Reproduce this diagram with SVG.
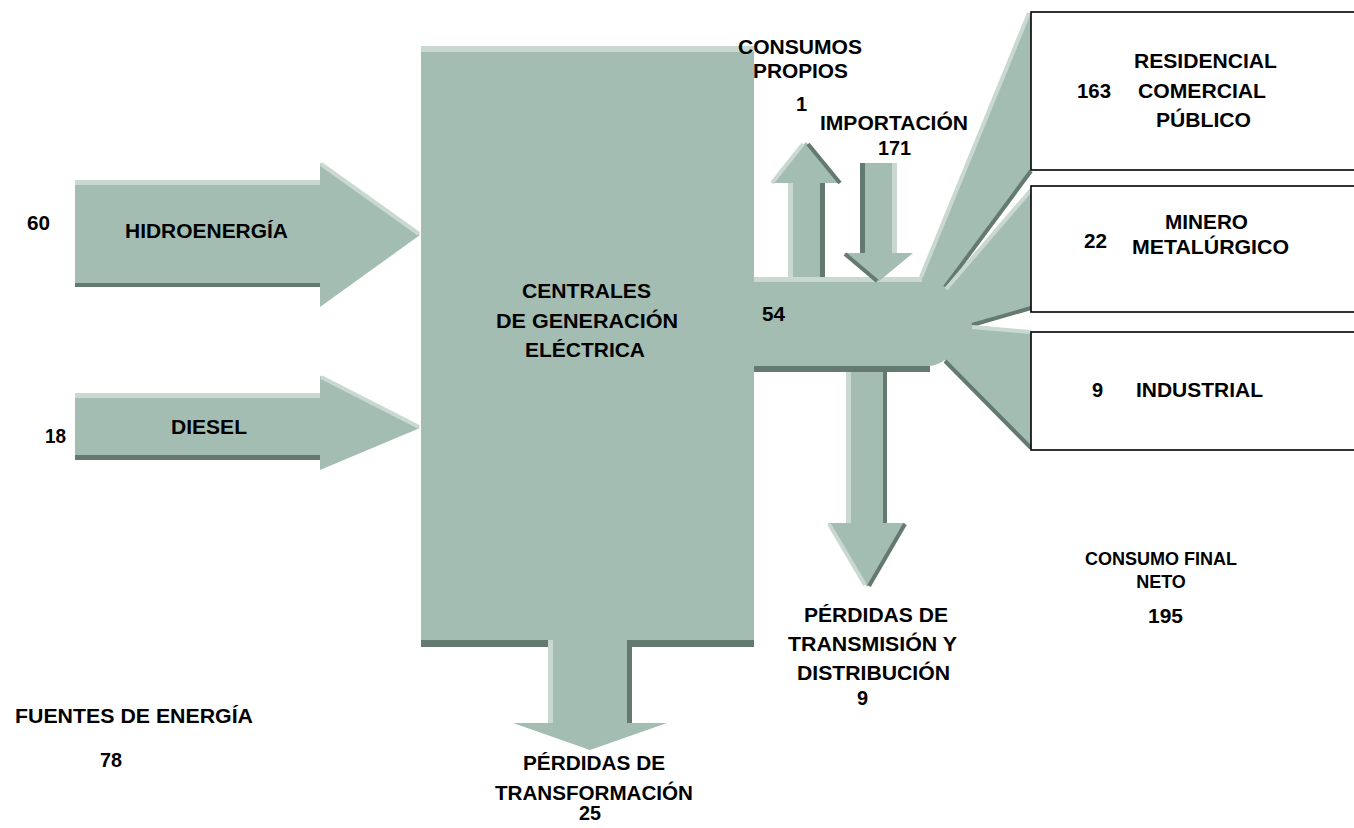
<svg xmlns="http://www.w3.org/2000/svg" width="1354" height="828" viewBox="0 0 1354 828">
<style>
.f{fill:#A3BDB3}
.lt{fill:#C9D9D1}
.dk{fill:#647A70}
.ls{stroke:#C9D9D1;stroke-width:4;fill:none}
.ds{stroke:#647A70;stroke-width:4;fill:none}
text{font-family:"Liberation Sans",Arial,sans-serif;font-weight:bold;font-size:20px;fill:#000}
.sm{font-size:18px}
.box{fill:#fff;stroke:#000;stroke-width:1.6}
</style>
<rect width="1354" height="828" fill="#fff"/>
<g id="connectors">
  <g id="arrow-hidro">
    <rect class="f" x="75" y="180" width="246" height="107"/>
    <rect class="lt" x="75" y="180" width="246" height="5"/>
    <rect class="dk" x="75" y="283" width="246" height="4"/>
    <polygon class="f" points="320,163 320,307 420,235"/>
    <line class="ls" x1="321" y1="164" x2="419" y2="234" stroke-width="2"/>
  </g>
  <g id="arrow-diesel">
    <rect class="f" x="75" y="393" width="246" height="67"/>
    <rect class="lt" x="75" y="393" width="246" height="5"/>
    <rect class="dk" x="75" y="455" width="246" height="5"/>
    <polygon class="f" points="320,376 320,470 420,428"/>
    <line class="ls" x1="321" y1="377" x2="419" y2="427" stroke-width="2"/>
  </g>
  <g id="arrow-transf">
    <rect class="dk" x="421" y="640" width="333" height="7"/>
    <rect class="f" x="548" y="638" width="84" height="86"/>
    <rect class="lt" x="548" y="640" width="5" height="83"/>
    <rect class="dk" x="627" y="640" width="5" height="83"/>
    <polygon class="f" points="513,723 667,723 590,750"/>
  </g>
  <g id="fan">
    <path class="f" d="M754,277 L920,277 L1029,13 L1031,13 L1031,170 L945,287 L1031,188 L1031,308 L972,325 L1031,331 L1031,448 L945,360 Q936,366 928,366 L754,366 Z"/>
    <rect class="lt" x="754" y="277" width="168" height="5"/>
    <rect class="dk" x="754" y="366" width="176" height="6"/>
    <line class="ls" x1="921" y1="277" x2="1029" y2="13" stroke-width="2"/>
    <line class="ds" x1="945" y1="287" x2="1031" y2="171"/>
    <line class="ls" x1="946" y1="289" x2="1031" y2="190"/>
    <line class="ds" x1="972" y1="325" x2="1031" y2="308"/>
    <line class="ls" x1="972" y1="327" x2="1031" y2="332"/>
    <line class="ds" x1="945" y1="361" x2="1031" y2="448"/>
  </g>
  <g id="arrow-propios">
    <rect class="f" x="788" y="182" width="37" height="95"/>
    <rect class="lt" x="788" y="182" width="5" height="95"/>
    <rect class="dk" x="820" y="182" width="5" height="95"/>
    <polygon class="f" points="772,183 840,183 806,142"/>
    <line class="ls" x1="772" y1="183" x2="803" y2="144" stroke-width="3"/>
    <line class="ds" x1="808" y1="144" x2="840" y2="183" stroke-width="3"/>
  </g>
  <g id="arrow-import">
    <rect class="f" x="860" y="163" width="37" height="91"/>
    <rect class="dk" x="860" y="163" width="5" height="90"/>
    <rect class="lt" x="892" y="163" width="5" height="90"/>
    <polygon class="f" points="844,253 913,253 878,282"/>
    <line class="ds" x1="845" y1="254" x2="877" y2="281" stroke-width="3"/>
  </g>
  <g id="arrow-td">
    <rect class="f" x="846" y="372" width="41" height="152"/>
    <rect class="lt" x="846" y="372" width="5" height="151"/>
    <rect class="dk" x="883" y="372" width="4" height="151"/>
    <polygon class="f" points="828,523 905,523 867,587"/>
    <line class="ls" x1="829" y1="524" x2="865" y2="585" stroke-width="3"/>
    <line class="ds" x1="905" y1="524" x2="869" y2="586" stroke-width="3"/>
  </g>
</g>
<g id="centrales">
  <rect class="f" x="421" y="46" width="333" height="594"/>
  <rect class="lt" x="421" y="46" width="333" height="6"/>
  <text x="522" y="298" textLength="129" lengthAdjust="spacingAndGlyphs">CENTRALES</text>
  <text x="496" y="328" textLength="182" lengthAdjust="spacingAndGlyphs">DE GENERACIÓN</text>
  <text x="525" y="357" textLength="120" lengthAdjust="spacingAndGlyphs">ELÉCTRICA</text>
</g>
<g id="residencial">
  <rect class="box" x="1031" y="12" width="340" height="158"/>
  <text x="1134" y="68" textLength="143" lengthAdjust="spacingAndGlyphs">RESIDENCIAL</text>
  <text x="1077" y="98" textLength="34" lengthAdjust="spacingAndGlyphs">163</text>
  <text x="1138" y="98" textLength="128" lengthAdjust="spacingAndGlyphs">COMERCIAL</text>
  <text x="1156" y="127" textLength="95" lengthAdjust="spacingAndGlyphs">PÚBLICO</text>
</g>
<g id="minero">
  <rect class="box" x="1031" y="186" width="340" height="126"/>
  <text x="1165" y="229" textLength="83" lengthAdjust="spacingAndGlyphs">MINERO</text>
  <text x="1084" y="248" textLength="23" lengthAdjust="spacingAndGlyphs">22</text>
  <text x="1132" y="254" textLength="157" lengthAdjust="spacingAndGlyphs">METALÚRGICO</text>
</g>
<g id="industrial">
  <rect class="box" x="1031" y="332" width="340" height="118"/>
  <text x="1092" y="397">9</text>
  <text x="1136" y="397" textLength="127" lengthAdjust="spacingAndGlyphs">INDUSTRIAL</text>
</g>
<g id="labels">
  <text x="27" y="230" textLength="23" lengthAdjust="spacingAndGlyphs">60</text>
  <text x="125" y="238" textLength="163" lengthAdjust="spacingAndGlyphs">HIDROENERGÍA</text>
  <text x="45" y="443" textLength="21" lengthAdjust="spacingAndGlyphs">18</text>
  <text x="171" y="434" textLength="76" lengthAdjust="spacingAndGlyphs">DIESEL</text>
  <text x="738" y="54" textLength="124" lengthAdjust="spacingAndGlyphs">CONSUMOS</text>
  <text x="753" y="78" textLength="95" lengthAdjust="spacingAndGlyphs">PROPIOS</text>
  <text x="796" y="111">1</text>
  <text x="820" y="130" textLength="148" lengthAdjust="spacingAndGlyphs">IMPORTACIÓN</text>
  <text x="878" y="155" textLength="33" lengthAdjust="spacingAndGlyphs">171</text>
  <text x="762" y="321" textLength="23" lengthAdjust="spacingAndGlyphs">54</text>
  <text x="804" y="622" textLength="144" lengthAdjust="spacingAndGlyphs">PÉRDIDAS DE</text>
  <text x="788" y="651" textLength="169" lengthAdjust="spacingAndGlyphs">TRANSMISIÓN Y</text>
  <text x="797" y="680" textLength="153" lengthAdjust="spacingAndGlyphs">DISTRIBUCIÓN</text>
  <text x="857" y="705">9</text>
  <text class="sm" x="1161" y="565" text-anchor="middle">CONSUMO FINAL</text>
  <text class="sm" x="1161" y="588" text-anchor="middle">NETO</text>
  <text x="1148" y="623" textLength="35" lengthAdjust="spacingAndGlyphs">195</text>
  <text x="15" y="723" textLength="238" lengthAdjust="spacingAndGlyphs">FUENTES DE ENERGÍA</text>
  <text x="100" y="767" textLength="22" lengthAdjust="spacingAndGlyphs">78</text>
  <text x="523" y="770" textLength="142" lengthAdjust="spacingAndGlyphs">PÉRDIDAS DE</text>
  <text x="594" y="800" text-anchor="middle" textLength="198" lengthAdjust="spacingAndGlyphs">TRANSFORMACIÓN</text>
  <text x="590" y="820" text-anchor="middle" textLength="22" lengthAdjust="spacingAndGlyphs">25</text>
</g>
</svg>
